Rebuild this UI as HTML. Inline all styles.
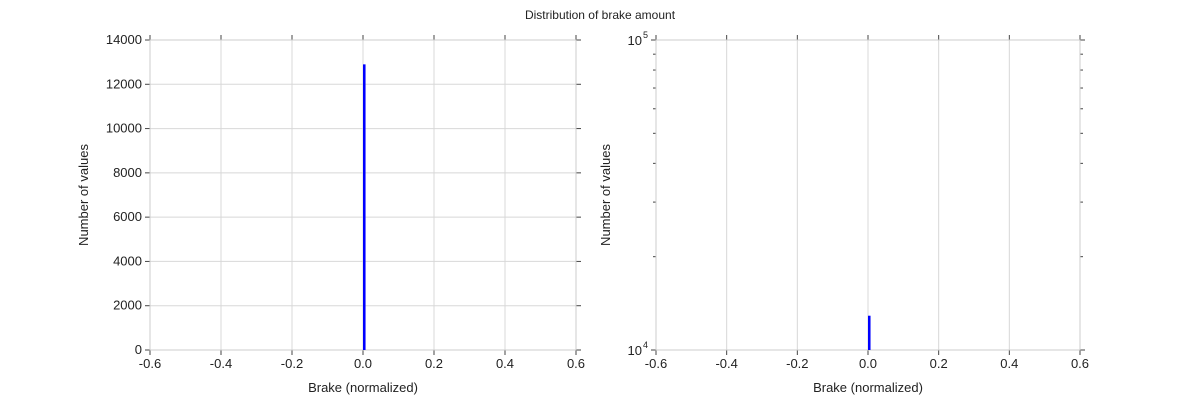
<!DOCTYPE html>
<html><head><meta charset="utf-8"><style>
body{margin:0;background:#fff;width:1200px;height:400px;overflow:hidden;font-family:"Liberation Sans",sans-serif}
svg text{font-family:"Liberation Sans",sans-serif;fill:#222}
</style></head><body>
<svg id="c" width="1200" height="400">
<text x="600" y="19" text-anchor="middle" font-size="12">Distribution of brake amount</text>
</svg>
<script>
const binEdges=[0.0,0.01];
const counts=[12900];
const xTicks=[-0.6,-0.4,-0.2,0.0,0.2,0.4,0.6];
const xTickLabels=["-0.6","-0.4","-0.2","0.0","0.2","0.4","0.6"];
const yTicksLin=[0,2000,4000,6000,8000,10000,12000,14000];
const yTicksLog=[10000,100000];
const svg=document.getElementById('c');
const NS='http://www.w3.org/2000/svg';
function mk(t,a,p){const e=document.createElementNS(NS,t);for(const k in a)e.setAttribute(k,a[k]);(p||svg).appendChild(e);return e;}
function panel(L,R,T,B,log,name){
  const g=mk('g',{});
  
  
  const xs=v=>L+(v+0.6)/1.2*(R-L);
  const ys=log?(v=>B-(Math.log10(Math.max(v,1e4))-4)*(B-T)):(v=>B-v/14000*(B-T));
  xTicks.forEach((t,i)=>{const x=xs(t);
    mk('line',{x1:x,x2:x,y1:T,y2:B,stroke:'#d8d8d8'},g);
    mk('line',{x1:x,x2:x,y1:B,y2:B+5,stroke:'#444'},g);
    mk('line',{x1:x,x2:x,y1:T,y2:T-5,stroke:'#444'},g);
    const tx=mk('text',{x:x,y:B+18,'text-anchor':'middle','font-size':13},g);tx.textContent=xTickLabels[i];
    
    });
  if(!log){yTicksLin.forEach(t=>{const y=ys(t);
    mk('line',{x1:L,x2:R,y1:y,y2:y,stroke:'#d8d8d8'},g);
    mk('line',{x1:L,x2:L-5,y1:y,y2:y,stroke:'#444'},g);
    mk('line',{x1:R,x2:R+5,y1:y,y2:y,stroke:'#444'},g);
    const tx=mk('text',{x:L-8,y:y+4,'text-anchor':'end','font-size':13},g);tx.textContent=t;
    
    });}
  else{yTicksLog.forEach(t=>{const y=ys(t);
    mk('line',{x1:L,x2:R,y1:y,y2:y,stroke:'#d8d8d8'},g);
    mk('line',{x1:L,x2:L-5,y1:y,y2:y,stroke:'#444'},g);
    mk('line',{x1:R,x2:R+5,y1:y,y2:y,stroke:'#444'},g);
    const tx=mk('text',{x:L-14,y:y+5,'text-anchor':'end','font-size':13},g);tx.textContent='10';
    const sp=mk('text',{x:L-13,y:y-2,'font-size':9},g);sp.textContent=Math.round(Math.log10(t));
    
    });
    for(let m=2;m<=9;m++){const y=ys(m*10000);
      mk('line',{x1:L,x2:L-3,y1:y,y2:y,stroke:'#444'},g);
      mk('line',{x1:R,x2:R+3,y1:y,y2:y,stroke:'#444'},g);}}
  mk('rect',{x:L,y:T,width:R-L,height:B-T,fill:'none',stroke:'#ccc'},g);
  counts.forEach((c,i)=>{const x0=xs(binEdges[i]),x1=xs(binEdges[i+1]);
    const r=mk('rect',{x:x0,y:ys(c),width:Math.max(x1-x0-1,2),height:B-ys(c),fill:'#0000ff'},g);
    
    });
  const xl=mk('text',{x:(L+R)/2,y:B+42,'text-anchor':'middle','font-size':13},g);xl.textContent='Brake (normalized)';
  
  
  const yl=mk('text',{x:0,y:0,'text-anchor':'middle','font-size':13,transform:`translate(${L-(log?46:62)},${(T+B)/2}) rotate(-90)`},g);yl.textContent='Number of values';
  
  
}
panel(150,576,40,350,false,'linear-histogram');
panel(656,1080,40,350,true,'log-histogram');
</script>
</body></html>
